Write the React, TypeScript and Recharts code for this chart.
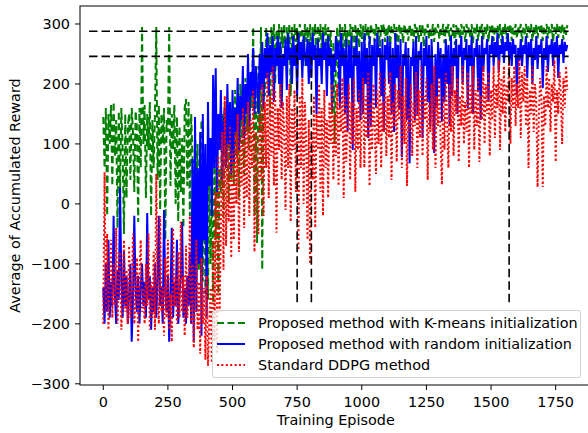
import React from 'react';
import { LineChart, Line, XAxis, YAxis } from 'recharts';

// Episodes sampled every 5 training episodes (0 .. 1795)
const EPISODE_STEP = 5;

const KMEANS_REWARD = [
  145, 60, 160, -20, 150, 100, 165, 30, 170, 80, 140, -40, 155, 20, 160, 90, -50, 150, 10, 130,
  150, 40, 160, 120, 20, 155, 130, -30, 160, 60, 295, 100, 165, 10, 150, 90, 170, -20, 140, 60,
  150, 295, 40, 165, -10, 150, 100, 160, -60, 140, 120, 295, 30, 150, 90, 165, 0, 145, -30, 130,
  20, 110, -40, 160, 175, 30, 170, -20, 150, 80, -60, 120, 20, 100, -110, 60, 140, -130, 80, -150,
  40, -160, 50, -100, 30, -165, 100, -60, 130, -150, 60, 20, 150, -20, 170, 60, 120, 0, 160, 40,
  170, 30, 190, 80, 160, 10, 200, 100, 180, 50, 210, 120, 190, 90, 220, 160, 295, -20, 200, -65,
  230, 120, 295, -110, 250, 180, 295, 200, 280, 150, 295, 250, 300, 200, 290, 240, 300, 180, 295, 260,
  300, 230, 295, 270, 300, 180, 295, 250, 300, 270, 295, 240, 300, 280, 290, 230, 300, 270, 295, 250,
  300, 240, 295, 280, 300, 210, 298, 270, 300, 250, 295, 280, 300, 230, 295, 260, 290, 150, 270, 100,
  240, 295, 180, 300, 260, 295, 230, 300, 270, 290, 250, 300, 280, 295, 240, 300, 270, 295, 260, 300,
  275, 298, 250, 300, 280, 295, 260, 300, 285, 292, 270, 300, 280, 295, 262, 298, 285, 300, 270, 295,
  280, 300, 265, 296, 285, 300, 270, 295, 250, 300, 282, 294, 268, 300, 285, 292, 272, 300, 280, 295,
  268, 300, 285, 294, 270, 298, 280, 300, 262, 295, 285, 300, 275, 292, 280, 300, 270, 296, 285, 300,
  275, 294, 282, 300, 268, 296, 285, 300, 272, 294, 280, 300, 265, 298, 283, 294, 275, 300, 282, 296,
  270, 300, 285, 295, 276, 300, 268, 294, 284, 300, 272, 296, 285, 300, 274, 295, 282, 300, 270, 296,
  284, 300, 272, 294, 285, 298, 276, 300, 268, 295, 283, 300, 275, 296, 285, 300, 272, 294, 282, 300,
  276, 296, 285, 300, 270, 294, 283, 300, 277, 296, 285, 300, 272, 295, 282, 300, 276, 296, 285, 300,
  272, 294, 284, 300, 276, 296, 285, 300, 270, 295, 283, 300, 277, 296, 285, 300, 274, 295, 282, 298,
];

const RANDOM_REWARD = [
  -140, -200, -100, -180, -60, -190, -130, -170, -20, -150, -200, -110, -160, 27, -130, -190, -80, -170, -120, -200,
  -150, -100, -230, -160, -20, -140, -180, -120, -200, -140, -100, -170, -130, -190, -15, -160, -120, -210, -140, -180,
  -100, -190, -130, -20, -170, -140, -200, -10, -150, -180, -120, -230, -160, -40, -190, -130, -170, -60, -200, -150,
  -120, -30, -190, -140, -200, -120, -170, -80, -200, 75, -230, 145, -180, 60, -100, 120, -220, 150, -60, 100,
  -190, 170, 30, 110, -20, 215, 60, 226, 20, 150, 90, 190, 40, 130, 160, 60, 200, 100, 170, 50,
  190, 70, 160, 120, 210, 90, 180, 140, 230, 110, 200, 150, 250, 130, 220, 180, 260, 150, 230, 200,
  150, 250, 190, 270, 160, 260, 210, 285, 180, 265, 220, 280, 170, 260, 230, 280, 200, 270, 160, 250,
  230, 275, 190, 285, 240, 260, 200, 280, 230, 265, 180, 285, 240, 270, 210, 280, 250, 230, 275, 200,
  270, 210, 285, 240, 265, 150, 275, 230, 260, 200, 285, 240, 270, 180, 280, 230, 260, 157, 250, 220,
  280, 240, 270, 160, 285, 230, 260, 150, 275, 120, 265, 210, 280, 90, 260, 230, 280, 170, 255, 140,
  270, 150, 285, 200, 260, 110, 280, 130, 265, 230, 275, 160, 285, 245, 260, 180, 275, 120, 265, 240,
  280, 200, 270, 150, 260, 120, 285, 210, 265, 160, 275, 78, 250, 230, 270, 140, 260, 68, 245, 230,
  270, 140, 280, 150, 255, 240, 270, 110, 260, 230, 280, 170, 265, 130, 275, 210, 85, 250, 160, 270,
  210, 260, 137, 250, 170, 275, 200, 265, 130, 280, 180, 260, 230, 275, 150, 265, 245, 280, 200, 260,
  240, 275, 160, 265, 230, 280, 150, 260, 245, 275, 190, 265, 140, 280, 220, 260, 250, 275, 170, 265,
  250, 280, 230, 270, 245, 285, 220, 265, 250, 280, 235, 270, 255, 285, 240, 270, 230, 275, 250, 265,
  182, 260, 240, 275, 230, 265, 250, 280, 210, 270, 245, 275, 200, 260, 240, 280, 225, 265, 250, 275,
  193, 260, 240, 280, 220, 265, 250, 275, 230, 270, 245, 280, 210, 265, 250, 275, 235, 270, 255, 265,
];

const DDPG_REWARD = [
  -200, 53, -180, -50, -210, -120, -60, -190, -100, -170, -40, -200, -130, -80, -210, -150, -60, -180, -110, -200,
  -70, -190, -140, -50, -200, -160, -90, -230, -120, -60, -180, -140, -200, -100, -170, -50, -210, -130, -190, -80,
  -210, 50, -160, -200, -20, -180, -140, -220, -90, -190, -60, -210, -150, -230, -40, -170, -120, -200, -80, -190,
  -30, -180, -120, -220, -70, -190, -150, -20, -200, -100, -240, -160, -60, -210, -130, -250, -90, -200, -140, -260,
  -120, -270, -200, -140, -265, -60, -230, 20, -250, 80, -180, -40, 120, -110, 180, -70, 100, -30, 130, -90,
  90, -60, 120, 0, 150, -80, 110, 30, 160, -40, 130, 10, 170, -20, 140, 60, 190, -80, 120, 20,
  -50, 150, 40, 200, -20, 170, 60, 220, 10, 180, 80, 230, 30, 190, -48, 160, 90, 200, 40, 170,
  120, -10, 180, 60, 200, -30, 160, 90, 190, 20, 150, -77, 180, 60, 210, 0, 170, 100, -60, 140,
  -100, 120, 40, 180, -40, 150, 90, 200, 20, 160, -20, 190, 60, 140, 10, 170, 100, 200, 40, 150,
  80, 200, 30, 170, 120, 210, 10, 180, 70, 150, 200, 40, 170, 100, 210, 20, 160, 90, 190, 60,
  150, 210, 60, 180, 110, 220, 30, 170, 90, 200, 130, 50, 190, 100, 220, 60, 170, 120, 210, 80,
  180, 110, 220, 40, 170, 130, 200, 70, 190, 140, 230, 60, 180, 100, 210, 30, 160, 120, 200, 80,
  170, 130, 220, 60, 190, 110, 230, 80, 180, 140, 210, 40, 170, 120, 200, 90, 230, 60, 180, 130,
  210, 100, 32, 180, 90, 220, 140, 60, 200, 120, 230, 80, 190, 150, 210, 70, 180, 130, 230, 100,
  170, 120, 220, 60, 200, 150, 230, 90, 190, 130, 210, 70, 180, 140, 230, 100, 200, 150, 220, 80,
  190, 140, 230, 110, 200, 160, 240, 90, 210, 150, 230, 120, 200, 170, 240, 100, 210, 160, 230, 130,
  200, 160, 240, 110, 220, 170, 230, 130, 210, 60, 190, 150, 230, 120, 200, 170, 28, 150, 210, 180,
  28, 180, 130, 230, 160, 210, 120, 200, 170, 240, 70, 190, 150, 220, 180, 100, 210, 160, 230, 190,
];

// Convergence markers
const LEVEL_KMEANS = 288;
const LEVEL_OTHERS = 246;
const HLINE_START = -55;
const HLINE_END = 1800;
const CONV_KMEANS = 750;
const CONV_RANDOM = 805;
const CONV_DDPG = 1570;
const VLINE_BOTTOM = -170;

const X_TICKS = [0, 250, 500, 750, 1000, 1250, 1500, 1750];
const Y_TICKS = [-300, -200, -100, 0, 100, 200, 300];
const X_DOMAIN = [-90, 1889];
const Y_DOMAIN = [-302, 330];

const SERIES_NAMES = [
  'Proposed method with K-means initialization',
  'Proposed method with random initialization',
  'Standard DDPG method',
];

const data = KMEANS_REWARD.map((v, i) => ({
  x: i * EPISODE_STEP,
  kmeans: v,
  random: RANDOM_REWARD[i],
  ddpg: DDPG_REWARD[i],
}));

const hTop = [{ x: HLINE_START, y: LEVEL_KMEANS }, { x: HLINE_END, y: LEVEL_KMEANS }];
const hLow = [{ x: HLINE_START, y: LEVEL_OTHERS }, { x: HLINE_END, y: LEVEL_OTHERS }];
const v1 = [{ x: CONV_KMEANS, y: LEVEL_KMEANS }, { x: CONV_KMEANS, y: VLINE_BOTTOM }];
const v2 = [{ x: CONV_RANDOM, y: LEVEL_OTHERS }, { x: CONV_RANDOM, y: VLINE_BOTTOM }];
const v3 = [{ x: CONV_DDPG, y: LEVEL_OTHERS }, { x: CONV_DDPG, y: VLINE_BOTTOM }];

const FONT = '"DejaVu Sans", Verdana, sans-serif';
const FS = 14.4;
const W = 600;
const H = 433;
const LEFT = 80;
const TOP = 6;
const BOTTOM = 385;
const RIGHT = 591.6;

const fmtY = (v: number) => (v < 0 ? '\u2212' + Math.abs(v) : String(v));

const GREEN = '#008000';
const BLUE = '#0000ff';
const RED = '#ff0000';
const BLACK_DASH = '8.5 4';
const GREEN_DASH = '7 3.5';
const RED_DOT = '2 2.4';

export default function App() {
  return (
    <div style={{ position: 'fixed', left: 0, top: 0, width: 588, height: 433, overflow: 'hidden', background: '#fff' }}>
      <div style={{ position: 'absolute', left: 0, top: 0 }}>
        <LineChart width={W} height={H} data={data} margin={{ top: TOP, right: W - RIGHT, bottom: 0, left: 0 }}>
          <XAxis
            type="number"
            dataKey="x"
            domain={X_DOMAIN}
            ticks={X_TICKS}
            allowDataOverflow
            height={H - BOTTOM}
            axisLine={false}
            tickSize={5}
            tickMargin={7}
            tickLine={{ stroke: '#000', strokeWidth: 1 }}
            tick={{ fill: '#000', fontSize: FS, fontFamily: FONT }}
          />
          <YAxis
            type="number"
            domain={Y_DOMAIN}
            ticks={Y_TICKS}
            allowDataOverflow
            width={LEFT}
            axisLine={false}
            tickSize={5}
            tickMargin={5}
            tickFormatter={fmtY}
            tickLine={{ stroke: '#000', strokeWidth: 1 }}
            tick={{ fill: '#000', fontSize: FS, fontFamily: FONT }}
          />
          <Line dataKey="kmeans" stroke={GREEN} strokeWidth={2} strokeDasharray={GREEN_DASH} dot={false} isAnimationActive={false} />
          <Line dataKey="random" stroke={BLUE} strokeWidth={2} dot={false} isAnimationActive={false} />
          <Line dataKey="ddpg" stroke={RED} strokeWidth={2} strokeDasharray={RED_DOT} dot={false} isAnimationActive={false} />
          <Line data={hTop} dataKey="y" stroke="#000" strokeWidth={1.6} strokeDasharray={BLACK_DASH} dot={false} isAnimationActive={false} />
          <Line data={hLow} dataKey="y" stroke="#000" strokeWidth={1.6} strokeDasharray={BLACK_DASH} dot={false} isAnimationActive={false} />
          <Line data={v1} dataKey="y" stroke="#000" strokeWidth={1.6} strokeDasharray={BLACK_DASH} dot={false} isAnimationActive={false} />
          <Line data={v2} dataKey="y" stroke="#000" strokeWidth={1.6} strokeDasharray={BLACK_DASH} dot={false} isAnimationActive={false} />
          <Line data={v3} dataKey="y" stroke="#000" strokeWidth={1.6} strokeDasharray={BLACK_DASH} dot={false} isAnimationActive={false} />
        </LineChart>
      </div>
      <svg width={W} height={H} style={{ position: 'absolute', left: 0, top: 0, pointerEvents: 'none' }}>
        <rect x={LEFT} y={TOP} width={RIGHT - LEFT} height={BOTTOM - TOP} fill="none" stroke="#000" strokeWidth={1} />
        <text x={19.5} y={(TOP + BOTTOM) / 2} transform={`rotate(-90 19.5 ${(TOP + BOTTOM) / 2})`} textAnchor="middle" fontFamily={FONT} fontSize={FS} fill="#000">
          Average of Accumulated Reward
        </text>
        <text x={(LEFT + RIGHT) / 2} y={425} textAnchor="middle" fontFamily={FONT} fontSize={FS} fill="#000">
          Training Episode
        </text>
      </svg>
      <div
        style={{
          position: 'absolute', left: 212, top: 310, width: 369, height: 68,
          border: '1px solid #d0d0d0', borderRadius: 3, background: 'rgba(255,255,255,0.8)',
          fontFamily: FONT, fontSize: FS, color: '#000', boxSizing: 'border-box',
        }}
      >
        {SERIES_NAMES.map((name, i) => (
          <div key={name} style={{ position: 'absolute', left: 3, top: 1.5 + i * 21, height: 21, display: 'flex', alignItems: 'center', whiteSpace: 'nowrap' }}>
            <svg width={30} height={10} style={{ marginRight: 12 }}>
              <line
                x1={1} y1={5} x2={29} y2={5}
                stroke={[GREEN, BLUE, RED][i]}
                strokeWidth={2}
                strokeDasharray={[GREEN_DASH, undefined, RED_DOT][i]}
              />
            </svg>
            <span>{name}</span>
          </div>
        ))}
      </div>
    </div>
  );
}
